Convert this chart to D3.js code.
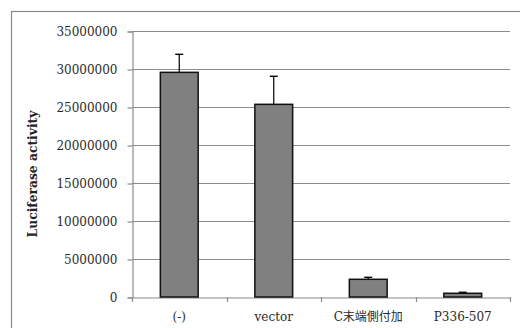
<!DOCTYPE html>
<meta charset="utf-8">
<head>
    <script src="https://d3js.org/d3.v7.min.js"></script>
    <style>
        body { margin: 0; background: white; }
        text { font-family: "DejaVu Serif", "Noto Sans CJK JP", serif; }
    </style>
</head>
<body>
    <div id="chart"></div>
    <script>
        // data
        var categories = ["(-)", "vector", "C末端側付加", "P336-507"];
        var values = [29560000, 25350000, 2330000, 490000];
        var errors = [2370000, 3690000, 260000, 130000];
        var yTicks = [0, 5000000, 10000000, 15000000, 20000000, 25000000, 30000000, 35000000];

        var width = 520,
            height = 328;
        var margin = { top: 31, right: 10, bottom: 31, left: 132 };

        var svg = d3.select("#chart").append("svg")
            .attr("width", width)
            .attr("height", height);

        // outer frame
        svg.append("rect")
            .attr("x", 11.5)
            .attr("y", 11.5)
            .attr("width", 530)
            .attr("height", 340)
            .attr("fill", "none")
            .attr("stroke", "#8a8a8a")
            .attr("stroke-width", 1.2);

        var x = d3.scaleBand()
            .domain(categories)
            .range([margin.left, width - margin.right])
            .padding(0);

        var y = d3.scaleLinear()
            .domain([0, 35000000])
            .range([height - margin.bottom, margin.top]);

        // gridlines
        svg.append("g")
            .selectAll("line")
            .data(yTicks.slice(1))
            .enter()
            .append("line")
            .attr("x1", margin.left)
            .attr("x2", width - margin.right)
            .attr("y1", function(d) { return Math.round(y(d)) + 0.5; })
            .attr("y2", function(d) { return Math.round(y(d)) + 0.5; })
            .attr("stroke", "#8c8c8c")
            .attr("stroke-width", 1.2);

        // y axis
        var yAxis = svg.append("g")
            .attr("transform", "translate(" + (margin.left + 0.5) + ",0.5)")
            .call(d3.axisLeft(y).tickValues(yTicks).tickSize(5).tickPadding(10)
                .tickFormat(d3.format("d")));
        yAxis.selectAll("line, path").attr("stroke", "#8c8c8c").attr("stroke-width", 1.2);
        yAxis.selectAll("text")
            .attr("font-size", 12)
            .attr("fill", "#2a2a2a")
            .style("font-family", "DejaVu Serif");

        // x axis
        var xAxis = svg.append("g")
            .attr("transform", "translate(0," + (Math.round(y(0)) + 0.5) + ")")
            .call(d3.axisBottom(x).tickSize(0).tickPadding(15));
        xAxis.select("path").attr("stroke", "#8c8c8c").attr("stroke-width", 1.2);
        xAxis.selectAll("text")
            .attr("font-size", 12)
            .attr("fill", "#2a2a2a");

        // category boundary ticks
        var bounds = categories.map(function(c) { return x(c); }).concat([x.range()[1]]);
        svg.append("g")
            .selectAll("line")
            .data(bounds)
            .enter()
            .append("line")
            .attr("x1", function(d) { return Math.round(d) + 0.5; })
            .attr("x2", function(d) { return Math.round(d) + 0.5; })
            .attr("y1", y(0))
            .attr("y2", y(0) + 5)
            .attr("stroke", "#8c8c8c")
            .attr("stroke-width", 1.2);

        var barW = x.bandwidth() * 0.4;

        // error bars (upper only)
        var err = svg.append("g");
        categories.forEach(function(c, i) {
            var cx = x(c) + x.bandwidth() / 2;
            err.append("line")
                .attr("x1", cx).attr("x2", cx)
                .attr("y1", y(values[i])).attr("y2", y(values[i] + errors[i]))
                .attr("stroke", "black").attr("stroke-width", 1.2);
            err.append("line")
                .attr("x1", cx - 4).attr("x2", cx + 4)
                .attr("y1", y(values[i] + errors[i])).attr("y2", y(values[i] + errors[i]))
                .attr("stroke", "black").attr("stroke-width", 1.4);
        });

        // bars
        svg.append("g")
            .selectAll("rect")
            .data(values)
            .enter()
            .append("rect")
            .attr("x", function(d, i) { return x(categories[i]) + (x.bandwidth() - barW) / 2; })
            .attr("y", function(d) { return y(d); })
            .attr("width", barW)
            .attr("height", function(d) { return y(0) - y(d); })
            .attr("fill", "#808080")
            .attr("stroke", "#111")
            .attr("stroke-width", 1.5);

        // y label
        svg.append("text")
            .attr("transform", "translate(37," + ((margin.top + height - margin.bottom) / 2 + 10) + ") rotate(-90)")
            .attr("text-anchor", "middle")
            .attr("font-size", 12.3)
            .attr("font-weight", "bold")
            .attr("fill", "#222")
            .text("Luciferase activity");
    </script>
</body>
</html>
